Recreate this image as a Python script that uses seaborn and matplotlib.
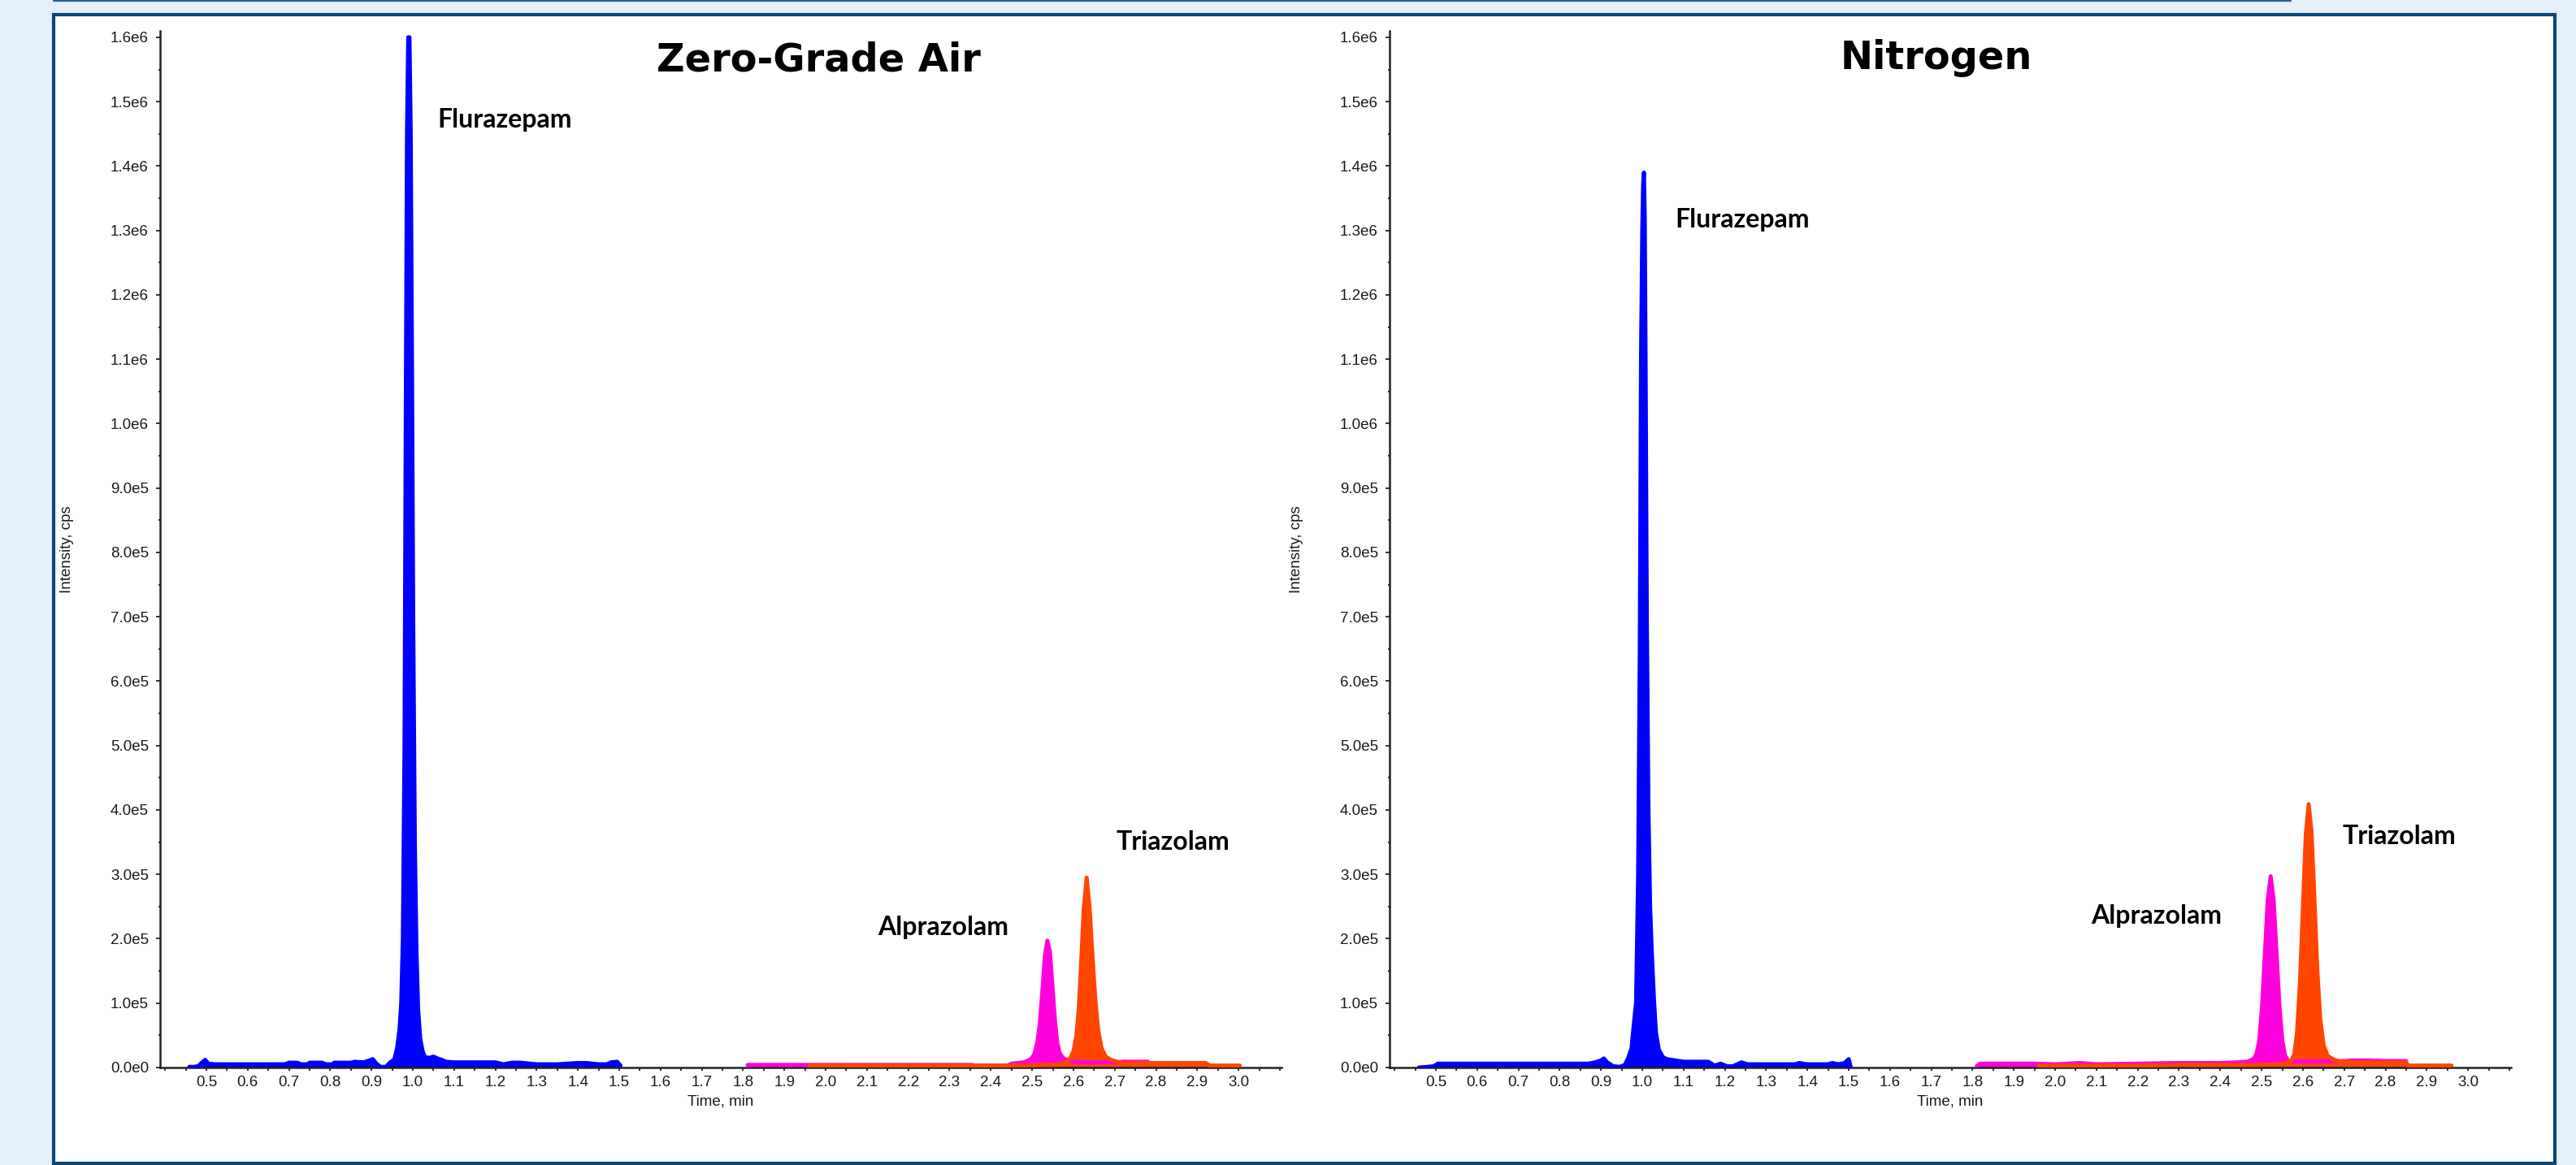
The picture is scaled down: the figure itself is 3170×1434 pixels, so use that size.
import numpy as np
import pandas as pd
import matplotlib
matplotlib.use("Agg")
import matplotlib.pyplot as plt
from matplotlib.patches import Rectangle
from matplotlib.lines import Line2D
from matplotlib.ticker import FixedLocator, MultipleLocator
import seaborn as sns

# ---------------- data ----------------
panel_titles = ["Zero-Grade Air", "Nitrogen"]
compounds = ["Flurazepam", "Alprazolam", "Triazolam"]

# Zero-Grade Air : Flurazepam (blue)
air_flu_t = [0.459, 0.470, 0.480, 0.490, 0.497, 0.505, 0.520, 0.600, 0.690, 0.700, 0.720, 0.730,
             0.745, 0.750, 0.780, 0.790, 0.805, 0.810, 0.850, 0.860, 0.880, 0.895, 0.903, 0.912,
             0.922, 0.935, 0.945, 0.955, 0.962, 0.968, 0.972, 0.976, 0.980, 0.983, 0.986, 0.989,
             0.992, 0.995, 0.998, 1.001, 1.005, 1.009, 1.013, 1.018, 1.024, 1.030, 1.040, 1.050,
             1.060, 1.070, 1.080, 1.100, 1.150, 1.200, 1.220, 1.240, 1.260, 1.300, 1.350, 1.400,
             1.420, 1.450, 1.470, 1.480, 1.495, 1.503]
air_flu_i = [1e3, 1e3, 2e3, 8e3, 1.2e4, 6e3, 5e3, 5e3, 5e3, 7.5e3, 7.5e3, 5e3,
             5e3, 7.5e3, 7.5e3, 5e3, 5e3, 7.5e3, 7.5e3, 9e3, 8e3, 1.1e4, 1.3e4, 6e3,
             1e3, 1e3, 8e3, 1.2e4, 3.0e4, 6.0e4, 1.0e5, 2.0e5, 5.0e5, 1.0e6, 1.45e6, 1.60e6,
             1.60e6, 1.45e6, 1.10e6, 7.0e5, 3.5e5, 1.8e5, 9.0e4, 4.5e4, 2.5e4, 1.6e4, 1.5e4, 1.7e4,
             1.4e4, 1.2e4, 9e3, 8e3, 8e3, 8e3, 5e3, 7.5e3, 7.5e3, 5e3, 5e3, 7e3,
             7e3, 5e3, 5e3, 8e3, 9e3, 3e3]

# Zero-Grade Air : Alprazolam (magenta)
air_alp_t = [1.811, 1.900, 2.000, 2.100, 2.200, 2.300, 2.355, 2.360, 2.440, 2.450, 2.480, 2.495,
             2.503, 2.507, 2.513, 2.519, 2.525, 2.531, 2.537, 2.543, 2.549, 2.555, 2.561, 2.567,
             2.575, 2.585, 2.600, 2.650, 2.700, 2.720, 2.780]
air_alp_i = [4e3, 4e3, 4e3, 4e3, 4e3, 4e3, 4e3, 3e3, 3e3, 6e3, 8e3, 1.2e4,
             1.8e4, 2.4e4, 4.0e4, 7.0e4, 1.2e5, 1.74e5, 1.97e5, 1.80e5, 1.28e5, 7.5e4, 3.8e4, 2.2e4,
             1.5e4, 1.1e4, 9e3, 8e3, 8e3, 9e3, 9e3]

# Zero-Grade Air : Triazolam (orange-red)
air_tri_t = [1.960, 2.000, 2.100, 2.200, 2.300, 2.400, 2.480, 2.540, 2.560, 2.580, 2.592, 2.600,
             2.607, 2.613, 2.619, 2.625, 2.632, 2.639, 2.646, 2.653, 2.660, 2.668, 2.678, 2.690,
             2.705, 2.720, 2.780, 2.920, 2.930, 3.003]
air_tri_i = [2.5e3, 3.5e3, 3e3, 3e3, 3e3, 3e3, 3.5e3, 4e3, 5e3, 8e3, 1.4e4, 2.5e4,
             4.8e4, 9.0e4, 1.65e5, 2.45e5, 2.95e5, 2.50e5, 1.75e5, 1.05e5, 5.8e4, 3.0e4, 1.7e4, 1.2e4,
             9e3, 7e3, 7e3, 7e3, 3e3, 3e3]

# Nitrogen : Flurazepam (blue)
n2_flu_t = [0.459, 0.480, 0.495, 0.505, 0.600, 0.700, 0.800, 0.870, 0.885, 0.900, 0.907, 0.915,
            0.930, 0.945, 0.958, 0.966, 0.974, 0.980, 0.985, 0.990, 0.994, 0.997, 1.000, 1.002,
            1.004, 1.006, 1.008, 1.011, 1.015, 1.019, 1.023, 1.028, 1.033, 1.040, 1.050, 1.060,
            1.080, 1.100, 1.160, 1.175, 1.190, 1.205, 1.220, 1.240, 1.255, 1.300, 1.370, 1.380,
            1.400, 1.450, 1.460, 1.475, 1.490, 1.500, 1.505]
n2_flu_i = [0, 1e3, 2e3, 6e3, 6e3, 6e3, 6e3, 6e3, 8e3, 1.1e4, 1.4e4, 8e3,
            2e3, 1e3, 4e3, 1.5e4, 3e4, 7e4, 1.0e5, 3.0e5, 6.5e5, 1.1e6, 1.3e6, 1.37e6,
            1.39e6, 1.32e6, 1.1e6, 7.0e5, 4.0e5, 2.5e5, 1.8e5, 1.1e5, 5.5e4, 2.8e4, 1.6e4, 1.3e4,
            1.1e4, 9e3, 9e3, 3e3, 6e3, 2e3, 2e3, 8e3, 5e3, 5e3, 5e3, 7e3,
            5e3, 5e3, 7e3, 5e3, 7e3, 1.3e4, 0]

# Nitrogen : Alprazolam (magenta)
n2_alp_t = [1.810, 1.818, 1.950, 2.000, 2.060, 2.100, 2.200, 2.300, 2.400, 2.440, 2.465, 2.480,
            2.487, 2.494, 2.501, 2.508, 2.515, 2.522, 2.529, 2.536, 2.543, 2.550, 2.557, 2.565,
            2.600, 2.700, 2.720, 2.760, 2.800, 2.850]
n2_alp_i = [2e3, 6e3, 6e3, 5e3, 7e3, 5e3, 6e3, 7e3, 7e3, 8e3, 9e3, 1.3e4,
            2.0e4, 4.0e4, 9.3e4, 1.78e5, 2.61e5, 2.97e5, 2.61e5, 1.80e5, 9.8e4, 4.2e4, 1.8e4, 1.0e4,
            9e3, 1.0e4, 1.1e4, 1.1e4, 1.0e4, 1.0e4]

# Nitrogen : Triazolam (orange-red)
n2_tri_t = [1.960, 2.100, 2.200, 2.300, 2.400, 2.480, 2.540, 2.560, 2.572, 2.579, 2.586, 2.593,
            2.600, 2.607, 2.614, 2.621, 2.628, 2.635, 2.642, 2.650, 2.660, 2.675, 2.690, 2.750,
            2.850, 2.855, 2.960]
n2_tri_i = [2.5e3, 3e3, 3e3, 4e3, 4e3, 4e3, 5e3, 7e3, 1.1e4, 2.0e4, 5.5e4, 1.33e5,
            2.48e5, 3.61e5, 4.09e5, 3.65e5, 2.60e5, 1.50e5, 7.5e4, 3.5e4, 1.8e4, 1.2e4, 9e3, 8e3,
            8e3, 3e3, 3e3]

y_tick_values = [k * 1e5 for k in range(17)]
y_tick_labels = ["0.0e0", "1.0e5", "2.0e5", "3.0e5", "4.0e5", "5.0e5", "6.0e5", "7.0e5",
                 "8.0e5", "9.0e5", "1.0e6", "1.1e6", "1.2e6", "1.3e6", "1.4e6", "1.5e6", "1.6e6"]
x_tick_values = [round(0.5 + 0.1 * k, 1) for k in range(26)]
x_tick_labels = [f"{v:.1f}" for v in x_tick_values]

colors = {"Flurazepam": "#0000FF", "Alprazolam": "#FF00DD", "Triazolam": "#FF4500"}

panels = [
    {"Flurazepam": (air_flu_t, air_flu_i), "Alprazolam": (air_alp_t, air_alp_i),
     "Triazolam": (air_tri_t, air_tri_i)},
    {"Flurazepam": (n2_flu_t, n2_flu_i), "Alprazolam": (n2_alp_t, n2_alp_i),
     "Triazolam": (n2_tri_t, n2_tri_i)},
]

# label anchors (layout, data coordinates: time, intensity)
label_pos = [
    {"Flurazepam": (1.059, 1.46e6), "Alprazolam": (2.126, 2.06e5), "Triazolam": (2.703, 3.38e5)},
    {"Flurazepam": (1.080, 1.305e6), "Alprazolam": (2.086, 2.235e5), "Triazolam": (2.696, 3.47e5)},
]

# ---------------- figure ----------------
sns.set_theme(style="white")
plt.rcParams["font.family"] = ["Liberation Sans", "DejaVu Sans"]

W, H = 3170, 1434
fig = plt.figure(figsize=(W / 100, H / 100), dpi=100)
fig.patch.set_facecolor("#E6F0FA")

# white panel with dark blue border
fig.add_artist(Rectangle((66 / W, 1 - 1432 / H), (3144 - 66) / W, (1432 - 18) / H,
                         transform=fig.transFigure, facecolor="white", edgecolor="#0B477D",
                         linewidth=3.0, zorder=-5))
fig.add_artist(Line2D([66 / W, 2819 / W], [1 - 0.8 / H, 1 - 0.8 / H], transform=fig.transFigure,
                      color="#1E5FA5", linewidth=1.6, zorder=-4))

axes_px = [(197, 1314), (1710, 1314)]
ax_w, ax_h = 1380, 1276
title_pos = [(1007, 87), (2383, 85)]

for p, (x0, yb) in enumerate(axes_px):
    ax = fig.add_axes([x0 / W, (H - yb) / H, ax_w / W, ax_h / H])
    ax.set_facecolor("white")
    for name in compounds:
        t, inten = panels[p][name]
        df = pd.DataFrame({"Time, min": t, "Intensity, cps": inten})
        ax.fill_between(df["Time, min"], 0, df["Intensity, cps"], color=colors[name],
                        linewidth=0, zorder=2)
        sns.lineplot(data=df, x="Time, min", y="Intensity, cps", ax=ax, color=colors[name],
                     linewidth=3.6, estimator=None, sort=False, zorder=3)
    ax.set_xlim(0.388, 3.104)
    ax.set_ylim(0, 1.61e6)

    ax.yaxis.set_major_locator(FixedLocator(y_tick_values))
    ax.set_yticklabels(y_tick_labels)
    ax.yaxis.set_minor_locator(MultipleLocator(5e4))
    ax.xaxis.set_major_locator(FixedLocator(x_tick_values))
    ax.set_xticklabels(x_tick_labels)
    ax.xaxis.set_minor_locator(MultipleLocator(0.05))

    ax.tick_params(axis="y", which="major", direction="out", length=3.6, width=1.3,
                   color="#222222", labelsize=13.5, labelcolor="#1a1a1a", pad=6.5, left=True)
    ax.tick_params(axis="y", which="minor", direction="out", length=1.8, width=1.3,
                   color="#222222", left=True)
    ax.tick_params(axis="x", which="both", direction="out", length=2.9, width=1.3,
                   color="#222222", labelsize=13.5, labelcolor="#1a1a1a", pad=4.3, bottom=True)

    for s in ["top", "right"]:
        ax.spines[s].set_visible(False)
    for s in ["left", "bottom"]:
        ax.spines[s].set_color("#222222")
        ax.spines[s].set_linewidth(1.8)

    ax.set_xlabel("Time, min", fontsize=13.5, color="#1a1a1a")
    ax.set_ylabel("Intensity, cps", fontsize=13.5, color="#1a1a1a")
    ax.xaxis.set_label_coords(0.5, -0.0265)
    ax.yaxis.set_label_coords(-0.0768, 0.5)

    for name in compounds:
        lx, ly = label_pos[p][name]
        ax.text(lx, ly, name, fontsize=23, fontweight="bold", family=["Lato", "DejaVu Sans"],
                ha="left", va="baseline", color="black", zorder=5)

    tx, ty = title_pos[p]
    fig.text(tx / W, 1 - ty / H, panel_titles[p], fontsize=34.5, fontweight="bold",
             family=["DejaVu Sans"], ha="center", va="baseline", color="black")

fig.savefig("out.png", dpi=100, facecolor=fig.get_facecolor())
